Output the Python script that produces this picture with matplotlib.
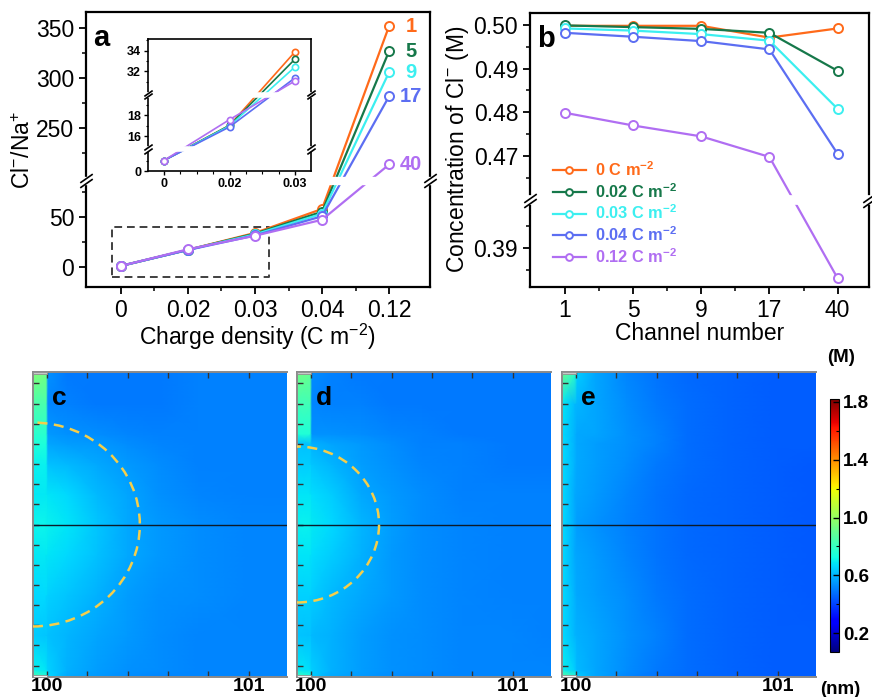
import numpy as np
import matplotlib
matplotlib.use('Agg')
import matplotlib.pyplot as plt
from matplotlib import transforms as mtrans
from matplotlib.patches import Arc, Rectangle

plt.rcParams['font.family'] = ['Liberation Sans', 'DejaVu Sans']
plt.rcParams['mathtext.fontset'] = 'custom'
plt.rcParams['mathtext.rm'] = 'Liberation Sans'
plt.rcParams['mathtext.it'] = 'Liberation Sans:italic'
plt.rcParams['mathtext.bf'] = 'Liberation Sans:bold'

# ---------------- data ----------------
charge_labels = ['0', '0.02', '0.03', '0.04', '0.12']
channel_labels = ['1', '5', '9', '17', '40']

ratio_ch1 = [1.0, 17.05, 33.9, 57.8, 352]
ratio_ch5 = [1.0, 17.05, 33.2, 55.0, 327]
ratio_ch9 = [1.0, 17.0, 32.45, 53.0, 306]
ratio_ch17 = [1.0, 16.9, 31.4, 50.5, 282]
ratio_ch40 = [1.0, 17.6, 31.1, 47.0, 214]

conc_q000 = [0.4998, 0.4998, 0.4998, 0.4971, 0.4992]
conc_q002 = [0.4999, 0.4995, 0.4991, 0.4982, 0.4895]
conc_q003 = [0.4992, 0.4987, 0.4979, 0.4964, 0.4808]
conc_q004 = [0.4982, 0.4973, 0.4963, 0.4944, 0.4705]
conc_q012 = [0.4799, 0.4770, 0.4745, 0.4698, 0.3831]
legend_labels = [r'0 C m$^{\bf{-2}}$', r'0.02 C m$^{\bf{-2}}$', r'0.03 C m$^{\bf{-2}}$',
                 r'0.04 C m$^{\bf{-2}}$', r'0.12 C m$^{\bf{-2}}$']

colors = ['#FF6A1A', '#16784A', '#3CEFF0', '#5C6EF2', '#B06EF2']

# concentration maps (M) on coarse node grids
map_x = [99.93, 99.995, 100.005, 100.1, 100.25, 100.4, 100.55, 100.75, 101.0, 101.19]
map_y = [-0.757, -0.72, -0.55, -0.35, -0.15, 0.0, 0.15, 0.3, 0.4, 0.45, 0.6, 0.757]
map_c = [
    [0.86, 0.78, 0.66, 0.58, 0.55, 0.53, 0.52, 0.52, 0.52, 0.52],
    [0.70, 0.68, 0.65, 0.59, 0.56, 0.54, 0.53, 0.52, 0.52, 0.52],
    [0.64, 0.63, 0.62, 0.60, 0.57, 0.55, 0.53, 0.52, 0.52, 0.52],
    [0.66, 0.66, 0.65, 0.63, 0.59, 0.56, 0.54, 0.53, 0.52, 0.52],
    [0.69, 0.69, 0.68, 0.66, 0.62, 0.58, 0.55, 0.53, 0.52, 0.52],
    [0.71, 0.71, 0.70, 0.68, 0.63, 0.58, 0.55, 0.53, 0.52, 0.52],
    [0.69, 0.69, 0.68, 0.66, 0.61, 0.57, 0.54, 0.52, 0.51, 0.51],
    [0.70, 0.70, 0.62, 0.61, 0.58, 0.55, 0.53, 0.51, 0.51, 0.51],
    [0.74, 0.74, 0.57, 0.56, 0.55, 0.53, 0.52, 0.51, 0.51, 0.51],
    [0.77, 0.77, 0.55, 0.54, 0.53, 0.52, 0.51, 0.51, 0.51, 0.51],
    [0.84, 0.84, 0.52, 0.51, 0.50, 0.50, 0.50, 0.51, 0.51, 0.51],
    [0.96, 0.93, 0.54, 0.50, 0.50, 0.50, 0.50, 0.51, 0.51, 0.51],
]
map_d = [
    [0.84, 0.76, 0.64, 0.58, 0.55, 0.53, 0.52, 0.52, 0.52, 0.52],
    [0.69, 0.67, 0.64, 0.59, 0.56, 0.54, 0.53, 0.52, 0.52, 0.52],
    [0.63, 0.62, 0.61, 0.59, 0.56, 0.54, 0.53, 0.52, 0.52, 0.51],
    [0.65, 0.65, 0.64, 0.61, 0.58, 0.55, 0.53, 0.52, 0.51, 0.51],
    [0.68, 0.68, 0.67, 0.64, 0.59, 0.55, 0.53, 0.52, 0.51, 0.51],
    [0.70, 0.70, 0.69, 0.66, 0.60, 0.56, 0.53, 0.52, 0.51, 0.51],
    [0.68, 0.68, 0.67, 0.64, 0.58, 0.55, 0.53, 0.51, 0.51, 0.51],
    [0.64, 0.64, 0.63, 0.60, 0.56, 0.54, 0.52, 0.51, 0.50, 0.50],
    [0.62, 0.62, 0.59, 0.57, 0.55, 0.53, 0.51, 0.51, 0.50, 0.50],
    [0.75, 0.75, 0.54, 0.54, 0.53, 0.52, 0.51, 0.50, 0.50, 0.50],
    [0.82, 0.82, 0.52, 0.51, 0.51, 0.50, 0.50, 0.50, 0.50, 0.50],
    [0.93, 0.90, 0.53, 0.51, 0.50, 0.50, 0.50, 0.50, 0.50, 0.50],
]
map_e = [
    [0.90, 0.78, 0.64, 0.57, 0.52, 0.49, 0.47, 0.46, 0.45, 0.45],
    [0.70, 0.64, 0.61, 0.57, 0.53, 0.50, 0.48, 0.46, 0.45, 0.45],
    [0.67, 0.60, 0.59, 0.57, 0.54, 0.51, 0.48, 0.46, 0.45, 0.45],
    [0.67, 0.59, 0.58, 0.56, 0.53, 0.50, 0.48, 0.46, 0.45, 0.44],
    [0.67, 0.58, 0.57, 0.55, 0.52, 0.49, 0.47, 0.46, 0.45, 0.44],
    [0.67, 0.58, 0.56, 0.54, 0.51, 0.49, 0.47, 0.46, 0.45, 0.44],
    [0.67, 0.58, 0.57, 0.55, 0.52, 0.49, 0.47, 0.46, 0.45, 0.44],
    [0.67, 0.59, 0.58, 0.56, 0.53, 0.50, 0.48, 0.46, 0.45, 0.44],
    [0.67, 0.59, 0.58, 0.56, 0.54, 0.51, 0.48, 0.46, 0.45, 0.45],
    [0.67, 0.59, 0.58, 0.57, 0.54, 0.51, 0.48, 0.46, 0.45, 0.45],
    [0.69, 0.61, 0.60, 0.57, 0.53, 0.50, 0.48, 0.46, 0.45, 0.45],
    [0.92, 0.78, 0.64, 0.57, 0.52, 0.49, 0.47, 0.46, 0.45, 0.45],
]

# ---------------- helpers ----------------
W, H = 872, 697
fig = plt.figure(figsize=(W / 100, H / 100), dpi=100)


def px_axes(l, t, r, b):
    return fig.add_axes([l / W, 1 - b / H, (r - l) / W, (b - t) / H])


def break_scale(gaps, eps=1e-3):
    yk = [-1e6]
    for lo, hi in gaps:
        yk += [lo, hi]
    yk.append(1e6)
    yk = np.array(yk, float)
    zk = yk.copy()
    for lo, hi in gaps:
        zk -= np.clip(yk - lo, 0, hi - lo) * (1 - eps)

    def fwd(y):
        return np.interp(y, yk, zk)

    def inv(z):
        return np.interp(z, zk, yk)
    return fwd, inv


def draw_break(ax, yb, band=6, msize=9, off=2.5, sides=(0, 1)):
    trans = mtrans.blended_transform_factory(ax.transAxes, ax.transData)
    ax.plot([-0.02, 1.02], [yb, yb], color='white', lw=band, transform=trans,
            clip_on=False, zorder=5, solid_capstyle='butt')
    for x in sides:
        for o in (-off, off):
            t2 = mtrans.offset_copy(trans, fig=fig, y=o, units='dots')
            ax.plot([x], [yb], marker=[(-1, -0.7), (1, 0.7)], markersize=msize,
                    color='black', mew=1.2, transform=t2, clip_on=False, zorder=6)


def style_frame(ax, lw=1.6):
    for s in ax.spines.values():
        s.set_linewidth(lw)
        s.set_color('black')


FS = 16.5

# ---------------- panel a ----------------
axa = px_axes(86, 12, 430, 287)
fa, ia = break_scale([(86, 198)])
axa.set_yscale('function', functions=(fa, ia))
xa = np.arange(len(charge_labels))
series_a = [ratio_ch1, ratio_ch5, ratio_ch9, ratio_ch17, ratio_ch40]
for s, c in zip(series_a, colors):
    axa.plot(xa, s, '-o', color=c, mfc='white', mec=c, ms=6.5, mew=1.4, lw=1.6, zorder=3)
axa.set_xlim(-0.52, 4.61)
axa.set_ylim(-20, 366)
axa.set_xticks(xa)
axa.set_xticklabels(charge_labels)
axa.set_xticks(xa[:-1] + 0.5, minor=True)
axa.set_yticks([0, 50, 250, 300, 350])
axa.set_yticks([25, 75, 225, 275, 325], minor=True)
axa.tick_params(which='major', direction='out', length=5, width=1.3, labelsize=FS)
axa.tick_params(which='minor', direction='out', length=3, width=1.1)
axa.set_xlabel(r'Charge density (C m$^{-2}$)', fontsize=FS, labelpad=0)
axa.set_ylabel(r'Cl$^{-}$/Na$^{+}$', fontsize=FS, labelpad=1)
style_frame(axa)
draw_break(axa, 86)
for lab, s, c in zip(channel_labels, series_a, colors):
    axa.text(4.33, s[-1], lab, color=c, fontsize=14.5, fontweight='bold', ha='center', va='center')
axa.text(0.02, 0.955, 'a', transform=axa.transAxes, fontsize=21, fontweight='bold', va='top')
axa.plot([-0.13, 2.21, 2.21, -0.13, -0.13], [-10, -10, 40, 40, -10], ls=(0, (4, 2.5)),
         color='#404040', lw=1.4, zorder=2)

# inset
axi = px_axes(148, 39, 311, 171)
fi, ii = break_scale([(2.1, 14.8), (20.0, 29.8)])
axi.set_yscale('function', functions=(fi, ii))
xi = np.arange(3)
for s, c in zip(series_a, colors):
    axi.plot(xi, s[:3], '-o', color=c, mfc='white', mec=c, ms=4.5, mew=1.2, lw=1.2, zorder=3)
axi.set_xlim(-0.24, 2.24)
axi.set_ylim(0, 35.1)
axi.set_xticks(xi)
axi.set_xticklabels(charge_labels[:3])
axi.set_xticks([0.25, 0.5, 0.75, 1.25, 1.5, 1.75], minor=True)
axi.set_yticks([0, 16, 18, 32, 34])
axi.set_yticks([1, 15, 17, 19, 31, 33, 35], minor=True)
axi.tick_params(which='major', direction='out', length=3, width=1, labelsize=9, pad=2)
axi.tick_params(which='minor', direction='out', length=1.8, width=0.8)
for lab in axi.get_xticklabels() + axi.get_yticklabels():
    lab.set_fontweight('bold')
style_frame(axi, 1.2)
draw_break(axi, 2.1, band=4, msize=6, off=1.8)
draw_break(axi, 20.0, band=4, msize=6, off=1.8)

# ---------------- panel b ----------------
axb = px_axes(530, 12.7, 869, 287)
fb, ib = break_scale([(0.401, 0.460)])
axb.set_yscale('function', functions=(fb, ib))
xb = np.arange(len(channel_labels))
series_b = [conc_q000, conc_q002, conc_q003, conc_q004, conc_q012]
for s, c, lab in zip(series_b, colors, legend_labels):
    axb.plot(xb, s, '-o', color=c, mfc='white', mec=c, ms=6.5, mew=1.4, lw=1.6, zorder=3, label=lab)
axb.set_xlim(-0.51, 4.46)
axb.set_ylim(0.3811, 0.5028)
axb.set_xticks(xb)
axb.set_xticklabels(channel_labels)
axb.set_xticks(xb[:-1] + 0.5, minor=True)
axb.set_yticks([0.39, 0.47, 0.48, 0.49, 0.50])
axb.set_yticklabels(['0.39', '0.47', '0.48', '0.49', '0.50'])
axb.set_yticks([0.385, 0.395, 0.465, 0.475, 0.485, 0.495], minor=True)
axb.tick_params(which='major', direction='out', length=5, width=1.3, labelsize=FS)
axb.tick_params(which='minor', direction='out', length=3, width=1.1)
axb.set_xlabel('Channel number', fontsize=FS, labelpad=0)
axb.set_ylabel(r'Concentration of Cl$^{-}$ (M)', fontsize=FS, labelpad=2)
style_frame(axb)
draw_break(axb, 0.401, band=7)
axb.text(0.02, 0.955, 'b', transform=axb.transAxes, fontsize=21, fontweight='bold', va='top')
leg = axb.legend(loc='upper left', bbox_to_anchor=(0.068, 0.462), frameon=False,
                 prop={'weight': 'bold', 'size': 11.8}, labelcolor='linecolor',
                 handlelength=2.0, handletextpad=0.55, labelspacing=0.18, markerscale=0.75,
                 borderaxespad=0, borderpad=0)

# ---------------- panels c, d, e ----------------
vmin, vmax = 0.07, 1.82
X, Y = np.meshgrid(map_x, map_y)
maps = [map_c, map_d, map_e]
lefts = [33, 297, 562]
names = ['c', 'd', 'e']
radii = [(0.53, 0.506), (0.407, 0.387), None]
mesh = None
for data, l, nm, rad in zip(maps, lefts, names, radii):
    ax = px_axes(l, 372, l + 254, 677)
    mesh = ax.pcolormesh(X, Y, np.array(data), cmap='jet', vmin=vmin, vmax=vmax,
                         shading='gouraud', rasterized=True)
    ax.set_xlim(99.93, 101.19)
    ax.set_ylim(-0.757, 0.757)
    ax.axhline(0, color='#0d1b2a', lw=1.0)
    if rad is not None:
        ax.add_patch(Arc((99.93, 0), 2 * rad[0], 2 * rad[1], theta1=-90, theta2=90,
                         color='#F5CE4A', lw=1.8, ls=(0, (4, 2.6)), zorder=4))
    ax.add_patch(Rectangle((99.93, 0.745), 0.07, 0.012, fc='#c8c8c8', ec='#909090', lw=0.6, zorder=4))
    ax.add_patch(Rectangle((99.93, -0.757), 0.07, 0.012, fc='#f4f4f4', ec='#909090', lw=0.6, zorder=4))
    ax.set_xticks(np.arange(100.0, 101.19, 0.2))
    ax.set_xticklabels(['100', '', '', '', '', '101'])
    ax.set_yticks(np.arange(-0.7, 0.71, 0.1))
    ax.tick_params(direction='in', length=4, width=1.0, color='#333333', top=True,
                   labelleft=False, labelsize=14, pad=1)
    for lab in ax.get_xticklabels():
        lab.set_fontweight('bold')
    for s in ax.spines.values():
        s.set_color('#8a8a8a')
        s.set_linewidth(1.4)
    ax.spines['right'].set_visible(False)
    ax.text(0.075, 0.955, nm, transform=ax.transAxes, fontsize=19, fontweight='bold', va='top')

cax = px_axes(830, 399, 839, 652)
cb = fig.colorbar(mesh, cax=cax, ticks=[0.2, 0.6, 1.0, 1.4, 1.8])
cb.ax.set_yticklabels(['0.2', '0.6', '1.0', '1.4', '1.8'])
cb.ax.set_yticks([0.4, 0.8, 1.2, 1.6], minor=True)
cb.ax.tick_params(which='major', direction='in', length=4, width=1, labelsize=13.5, pad=3)
cb.ax.tick_params(which='minor', direction='in', length=2.5, width=0.8)
for lab in cb.ax.get_yticklabels():
    lab.set_fontweight('bold')
cb.outline.set_linewidth(0.8)
fig.text(841 / W, 1 - 357 / H, '(M)', fontsize=13.5, fontweight='bold', ha='center', va='center')
fig.text(840 / W, 1 - 690 / H, '(nm)', fontsize=13.5, fontweight='bold', ha='center', va='center')

fig.savefig('out.png', dpi=100)
